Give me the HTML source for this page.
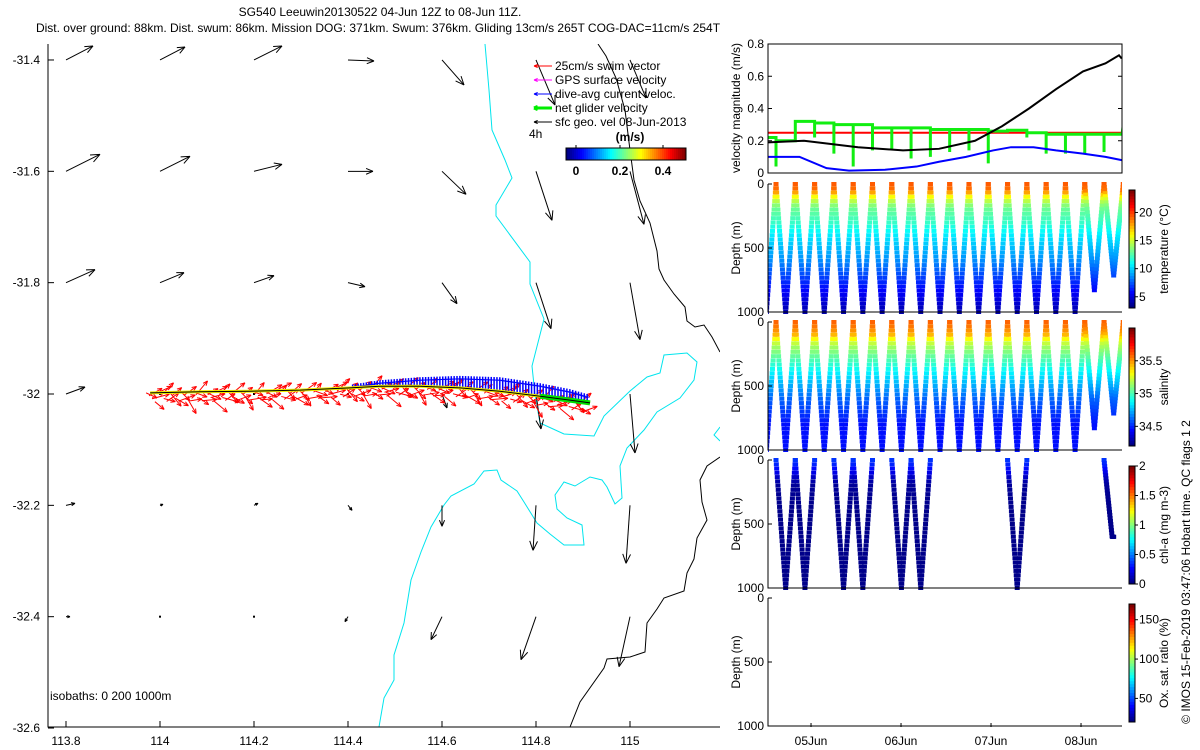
<!DOCTYPE html>
<html><head><meta charset="utf-8"><style>
body{margin:0;background:#fff;}
svg{display:block;font-family:"Liberation Sans",sans-serif;}
</style></head><body>
<svg id="svg" width="1200" height="750" viewBox="0 0 1200 750" xmlns="http://www.w3.org/2000/svg">
<text x="380" y="16" font-size="12" text-anchor="middle">SG540 Leeuwin20130522 04-Jun 12Z to 08-Jun 11Z.</text>
<text x="378" y="32" font-size="12" text-anchor="middle">Dist. over ground: 88km. Dist. swum: 86km. Mission DOG: 371km. Swum: 376km. Gliding 13cm/s 265T COG-DAC=11cm/s 254T</text>
<g id="map"></g>
<g id="vel"></g>
<g id="sec"></g>
<text transform="translate(1190,572) rotate(-90)" font-size="12" text-anchor="middle">© IMOS 15-Feb-2019 03:47:06 Hobart time. QC flags 1  2</text>
</svg>
<script>
// ===== data =====
const mapLonTicks=[113.8,114,114.2,114.4,114.6,114.8,115];
const mapLatTicks=[-31.4,-31.6,-31.8,-32,-32.2,-32.4,-32.6];
const gridLons=[113.8,114.0,114.2,114.4,114.6,114.8,115.0];
const gridLats=[-31.4,-31.6,-31.8,-32.0,-32.2,-32.4];
const gridU=[[0.27,0.25,0.28,0.26,0.22,0.19,0.16],
 [0.34,0.30,0.28,0.25,0.24,0.16,0.14],
 [0.29,0.24,0.20,0.17,0.15,0.15,0.10],
 [0.19,0,0,0,0.05,0.05,0.05],
 [0.09,0.03,0.04,0.04,0.0,-0.03,-0.04],
 [0.04,0.01,0.01,-0.03,-0.11,-0.15,-0.11]];
const gridV=[[0.14,0.13,0.14,-0.01,-0.25,-0.45,-0.38],
 [0.17,0.15,0.07,0,-0.23,-0.49,-0.53],
 [0.13,0.10,0.07,-0.04,-0.21,-0.46,-0.57],
 [0.07,0,0,0,-0.14,-0.35,-0.59],
 [0.02,0.01,0.02,-0.05,-0.21,-0.45,-0.58],
 [0,-0.01,0,-0.05,-0.23,-0.43,-0.50]];
const trackLon=[113.979,114.085,114.191,114.298,114.404,114.468,114.553,114.638,114.723,114.809,114.872,114.915];
const trackLat=[-31.998,-31.996,-31.995,-31.993,-31.989,-31.986,-31.986,-31.989,-31.995,-32.004,-32.011,-32.016];
const swimAng=[-25,30,15,-40,25,45,-15,35,-50,40,-30,20,-45,35,-60,10,-20,50,-35,5];
const dacLen=[0,0,0,0,0,3,6,9,11,10,8,5];
const iso200=[[485,44],[489,90],[492,130],[505,160],[512,178],[496,205],[496,216],[530,262],[530,284],[544,319],[532,366],[535,395],[540,423],[564,434],[594,436],[604,416],[630,391],[647,377],[660,373],[664,355],[687,353],[697,362],[694,380],[680,398],[657,412],[644,430],[627,448],[620,466],[622,498],[615,504],[607,487],[602,480],[590,477],[575,486],[564,482],[555,495],[557,509],[567,518],[582,525],[584,545],[564,545],[550,534],[537,523],[524,502],[517,491],[501,480],[497,470],[484,471],[474,484],[451,496],[444,505],[431,527],[421,552],[411,580],[404,623],[394,655],[394,680],[384,698],[379,727]];
const iso1000a=[[598,44],[606,56],[616,78],[625,110],[630,150],[634,180],[640,201],[650,223],[657,251],[659,269],[664,280],[674,294],[685,307],[687,321],[695,327],[704,325],[712,337],[720,352]];
const iso1000b=[[720,457],[707,466],[700,480],[702,502],[707,520],[697,538],[694,559],[687,573],[684,591],[664,598],[657,609],[647,623],[645,652],[630,657],[607,659],[604,668],[580,702],[570,727]];
const velTicks=[0,0.2,0.4,0.6,0.8];
const blackT=[0,0.4,1.0,1.5,1.9,2.3,2.6,2.9,3.2,3.5,3.75,3.9,3.93];
const blackV=[0.19,0.2,0.16,0.14,0.15,0.2,0.29,0.4,0.52,0.63,0.68,0.73,0.71];
const blueT=[0,0.35,0.65,0.9,1.3,1.65,1.9,2.2,2.5,2.7,2.95,3.2,3.5,3.75,3.93];
const blueV=[0.1,0.1,0.03,0.015,0.02,0.04,0.07,0.1,0.14,0.16,0.16,0.14,0.12,0.1,0.08];
const swimSpeed=0.25;
const surfT0=0.089, diveP=0.2144;
const greenLvl=[0.22,0.2,0.32,0.31,0.30,0.30,0.28,0.28,0.28,0.27,0.27,0.27,0.26,0.265,0.25,0.24,0.24,0.24,0.24,0.30];
const greenMin=[0.04,0.2,0.22,0.12,0.04,0.14,0.15,0.09,0.1,0.13,0.14,0.06,0.26,0.22,0.12,0.12,0.12,0.13,0.09];
const maxDepth=[1000,1000,1000,1000,1000,1000,1000,1000,1000,1000,1000,1000,1000,1000,1000,1000,1000,830,715,600];
const profDepth=[0,50,100,150,200,300,400,600,800,1000];
const profTemp=[19.5,19,16,14,13,12,10.5,8.5,6,4];
const profSal=[35.6,35.55,35.45,35.25,35.15,35.0,34.85,34.6,34.45,34.45];
const profChl=[0.35,0.3,0.2,0.1,0.05,0.03,0.02,0.02,0.02,0.02];
const chlDives=[0,1,3,4,6,7,12];
const dayLabels=["05Jun","06Jun","07Jun","08Jun"];
const dayPos=[0.478,1.478,2.478,3.478];

const NS="http://www.w3.org/2000/svg";
function mk(parent,tag,attrs){const e=document.createElementNS(NS,tag);for(const k in attrs)e.setAttribute(k,attrs[k]);parent.appendChild(e);return e;}
function jet(f){f=Math.max(0,Math.min(1,f));const r=Math.max(0,Math.min(1,1.5-Math.abs(4*f-3))),g=Math.max(0,Math.min(1,1.5-Math.abs(4*f-2))),b=Math.max(0,Math.min(1,1.5-Math.abs(4*f-1)));return `rgb(${Math.round(r*255)},${Math.round(g*255)},${Math.round(b*255)})`;}
function interp(xs,ys,x){if(x<=xs[0])return ys[0];for(let i=1;i<xs.length;i++)if(x<=xs[i])return ys[i-1]+(ys[i]-ys[i-1])*(x-xs[i-1])/(xs[i]-xs[i-1]);return ys[ys.length-1];}
const lonX=l=>160+(l-114)*470, latY=a=>394-(a+32)*556.7;
function arrow(g,x1,y1,x2,y2,col,hs,w){
 const l=mk(g,'line',{x1,y1,x2,y2,stroke:col,'stroke-width':w});
 
 
 const a=Math.atan2(y2-y1,x2-x1);
 for(const s of[-1,1]){const h=mk(g,'line',{x1:x2,y1:y2,x2:x2-hs*Math.cos(a+s*0.4),y2:y2-hs*Math.sin(a+s*0.4),stroke:col,'stroke-width':w});
 
 }
}
const map=document.getElementById('map');
const mclip=mk(map,'clipPath',{id:'mc'});mk(mclip,'rect',{x:48,y:44,width:672,height:683});
const mg=mk(map,'g',{'clip-path':'url(#mc)'});
function poly(g,pts,col,name){const p=mk(g,'polyline',{points:pts.map(p=>p.join(',')).join(' '),fill:'none',stroke:col,'stroke-width':1});}
poly(mg,iso200,'#00e5ee','isobath-200m');
poly(mg,[[720,427],[714,435],[720,441]],'#00e5ee','isobath-200m-east');
poly(mg,iso1000a,'#000','isobath-1000m-north');
poly(mg,iso1000b,'#000','isobath-1000m-south');
for(let r=0;r<gridLats.length;r++)for(let c=0;c<gridLons.length;c++){
 const x=lonX(gridLons[c]),y=latY(gridLats[r]);const u=gridU[r][c]*100,v=gridV[r][c]*100;
 const len=Math.hypot(u,v);if(len<1.5){mk(mg,'rect',{x:x-1,y:y-1,width:2,height:2,fill:'#000'});continue;}
 arrow(mg,x,y,x+u,y-v,'#000',Math.min(10,len*0.22+2),1);}
const tp=trackLon.map((l,i)=>[lonX(l),latY(trackLat[i])]);
const trk=mk(mg,'g',{});
const samp=[];for(let i=0;i<tp.length-1;i++){const n=Math.ceil((tp[i+1][0]-tp[i][0])/3);for(let j=0;j<n;j++){const f=j/n;samp.push([tp[i][0]+f*(tp[i+1][0]-tp[i][0]),tp[i][1]+f*(tp[i+1][1]-tp[i][1]),i+f]);}}
samp.forEach((s,k)=>{const a=swimAng[k%swimAng.length]*Math.PI/180;const L=12+(k%3)*3;const oy=(k%4)*3;arrow(trk,s[0]-4,s[1]+oy,s[0]-4+L*Math.cos(a),s[1]+oy-L*Math.sin(a),'#f00',5,1);});
samp.forEach((s,k)=>{const h=interp(trackLon.map((_,i)=>i),dacLen,s[2]);if(h>0){mk(trk,'line',{x1:s[0],y1:s[1],x2:s[0],y2:s[1]-h-3,stroke:'#00f','stroke-width':1.5});mk(trk,'line',{x1:s[0]-2,y1:s[1]-h,x2:s[0]+2,y2:s[1]-h,stroke:'#00f','stroke-width':1});}});
mk(trk,'polyline',{points:tp.map(p=>p.join(',')).join(' '),fill:'none',stroke:'#ee0','stroke-width':3});
mk(trk,'polyline',{points:tp.slice(9).map(p=>p.join(',')).join(' '),fill:'none',stroke:'#0d0','stroke-width':5});
mk(trk,'polyline',{points:tp.map(p=>p.join(',')).join(' '),fill:'none',stroke:'#000','stroke-width':1});
mk(map,'polyline',{points:'48,44 48,727 720,727',fill:'none',stroke:'#000','stroke-width':1});
mapLonTicks.forEach(l=>{const x=lonX(l);mk(map,'line',{x1:x,y1:727,x2:x,y2:721,stroke:'#000'});const t=mk(map,'text',{x,y:745,'font-size':12,'text-anchor':'middle'});t.textContent=String(l);});
mapLatTicks.forEach(a=>{const y=latY(a);mk(map,'line',{x1:48,y1:y,x2:54,y2:y,stroke:'#000'});const t=mk(map,'text',{x:40,y:y+4,'font-size':12,'text-anchor':'end'});t.textContent=String(a);});
{const t=mk(map,'text',{x:50,y:700,'font-size':12});t.textContent='isobaths: 0   200   1000m';}
const leg=mk(map,'g',{});
const legItems=[['25cm/s swim vector','#f00',1],['GPS surface velocity','#f0f',1],['dive-avg current veloc.','#00f',1],['net glider velocity','#0e0',3],['sfc geo. vel 08-Jun-2013','#000',1]];
legItems.forEach((it,i)=>{const y=66+i*14;arrow(leg,552,y,534,y,it[1],4,it[2]);const t=mk(leg,'text',{x:555,y:y+4,'font-size':12});t.textContent=it[0];});
{const t=mk(leg,'text',{x:529,y:138,'font-size':12});t.textContent='4h';
const u=mk(leg,'text',{x:630,y:141,'font-size':12,'font-weight':'bold','text-anchor':'middle'});u.textContent='(m/s)';}
for(let i=0;i<60;i++)mk(leg,'rect',{x:566+i*2,y:148,width:2.2,height:12,fill:jet(i/59)});
mk(leg,'rect',{x:566,y:148,width:120,height:12,fill:'none',stroke:'#000'});
[[0,576],[0.2,620],[0.4,663]].forEach(p=>{mk(leg,'line',{x1:p[1],y1:148,x2:p[1],y2:145,stroke:'#000'});const t=mk(leg,'text',{x:p[1],y:175,'font-size':12,'font-weight':'bold','text-anchor':'middle'});t.textContent=String(p[0]);});

const PX0=768,PX1=1122;const tX=t=>PX0+t*90;
const vel=document.getElementById('vel');
const vY=v=>173-v*161.25;
const vclip=mk(vel,'clipPath',{id:'vc'});mk(vclip,'rect',{x:PX0,y:44,width:PX1-PX0,height:129});
const vg=mk(vel,'g',{'clip-path':'url(#vc)'});
{const l=mk(vg,'line',{x1:PX0,y1:vY(swimSpeed),x2:PX1,y2:vY(swimSpeed),stroke:'#f00','stroke-width':2});}
let gp=[];const tEnd=(PX1-PX0)/90;
for(let k=-1;k<greenLvl.length-1;k++){const a=Math.max(0,surfT0+k*diveP),b=Math.min(tEnd,surfT0+(k+1)*diveP);const L=greenLvl[k+1];gp.push([tX(a),vY(L)],[tX(b),vY(L)]);
 if(k+1<greenMin.length&&b<tEnd){gp.push([tX(b),vY(greenMin[k+1])],[tX(b),vY(greenLvl[k+2]??L)]);}}
{const p=mk(vg,'polyline',{points:gp.map(p=>p.join(',')).join(' '),fill:'none',stroke:'#1e1','stroke-width':3});}
{const p=mk(vg,'polyline',{points:blackT.map((t,i)=>tX(t)+','+vY(blackV[i])).join(' '),fill:'none',stroke:'#000','stroke-width':2});}
{const p=mk(vg,'polyline',{points:blueT.map((t,i)=>tX(t)+','+vY(blueV[i])).join(' '),fill:'none',stroke:'#00f','stroke-width':2});}
mk(vel,'rect',{x:PX0,y:44,width:PX1-PX0,height:129,fill:'none',stroke:'#000'});
velTicks.forEach(v=>{const y=vY(v);mk(vel,'line',{x1:PX0,y1:y,x2:PX0+4,y2:y,stroke:'#000'});mk(vel,'line',{x1:PX1,y1:y,x2:PX1-4,y2:y,stroke:'#000'});const t=mk(vel,'text',{x:764,y:y+4,'font-size':12,'text-anchor':'end'});t.textContent=String(v);});
{const t=mk(vel,'text',{transform:'translate(740,108) rotate(-90)','font-size':12,'text-anchor':'middle'});t.textContent='velocity magnitude (m/s)';}

const sec=document.getElementById('sec');
const panels=[{top:184,prof:profTemp,lo:3,hi:24,ticks:[5,10,15,20],label:'temperature (°C)',name:'temperature'},
{top:322,prof:profSal,lo:34.2,hi:36,ticks:[34.5,35,35.5],label:'salinity',name:'salinity'},
{top:460,prof:profChl,lo:0,hi:2,ticks:[0,0.5,1,1.5,2],label:'chl-a (mg m-3)',name:'chlorophyll'},
{top:598,prof:null,lo:20,hi:170,ticks:[50,100,150],label:'Ox. sat. ratio (%)',name:'oxygen'}];
const H=128;
panels.forEach((p,pi)=>{
 const g=mk(sec,'g',{});
 const cid='pc'+pi;const c=mk(g,'clipPath',{id:cid});mk(c,'rect',{x:PX0,y:p.top-3,width:PX1-PX0,height:H+6});
 const dg=mk(g,'g',{'clip-path':`url(#${cid})`});
 const dY=d=>p.top+d/1000*H;
 if(p.prof){
  for(let k=-1;k<maxDepth.length-1;k++){
   if(pi===2&&chlDives.indexOf(k)<0&&k!==17)continue;
   const t0=surfT0+k*diveP,md=maxDepth[k+1];
   for(let s=0;s<=60;s++){const f=s/60;let d=f<0.5?f*2*md:(1-f)*2*md;if(pi===2&&k===17){if(f>0.5)continue;d=Math.min(d,600);}
    const x=tX(t0+f*diveP),y=dY(d);const col=jet((interp(profDepth,p.prof,d)-p.lo)/(p.hi-p.lo));
    mk(dg,'rect',{x:x-2.5,y:y-2,width:5,height:4,fill:col});}
  }}
 mk(g,'polyline',{points:`${PX0},${p.top} ${PX0},${p.top+H} ${PX1},${p.top+H}`,fill:'none',stroke:'#000'});
 [0,500,1000].forEach(d=>{const y=dY(d);mk(g,'line',{x1:PX0,y1:y,x2:PX0+4,y2:y,stroke:'#000'});const t=mk(g,'text',{x:764,y:y+4,'font-size':12,'text-anchor':'end'});t.textContent=String(d);});
 {const t=mk(g,'text',{transform:`translate(740,${p.top+H/2}) rotate(-90)`,'font-size':12,'text-anchor':'middle'});t.textContent='Depth (m)';}
 const cy0=p.top+6,cy1=p.top+H-4;
 for(let i=0;i<40;i++)mk(g,'rect',{x:1129,y:cy1-(i+1)*(cy1-cy0)/40,width:6,height:(cy1-cy0)/40+0.5,fill:jet(i/39)});
 mk(g,'rect',{x:1129,y:cy0,width:6,height:cy1-cy0,fill:'none',stroke:'#000'});
 p.ticks.forEach(v=>{const y=cy1-(v-p.lo)/(p.hi-p.lo)*(cy1-cy0);mk(g,'line',{x1:1135,y1:y,x2:1138,y2:y,stroke:'#000'});const t=mk(g,'text',{x:1139,y:y+4,'font-size':12});t.textContent=String(v);});
 {const t=mk(g,'text',{transform:`translate(1168,${(cy0+cy1)/2}) rotate(-90)`,'font-size':12,'text-anchor':'middle'});t.textContent=p.label;}
});
dayPos.forEach((t,i)=>{const x=tX(t);mk(sec,'line',{x1:x,y1:727,x2:x,y2:723,stroke:'#000'});const e=mk(sec,'text',{x,y:745,'font-size':12,'text-anchor':'middle'});e.textContent=dayLabels[i];});
</script>
</body></html>
